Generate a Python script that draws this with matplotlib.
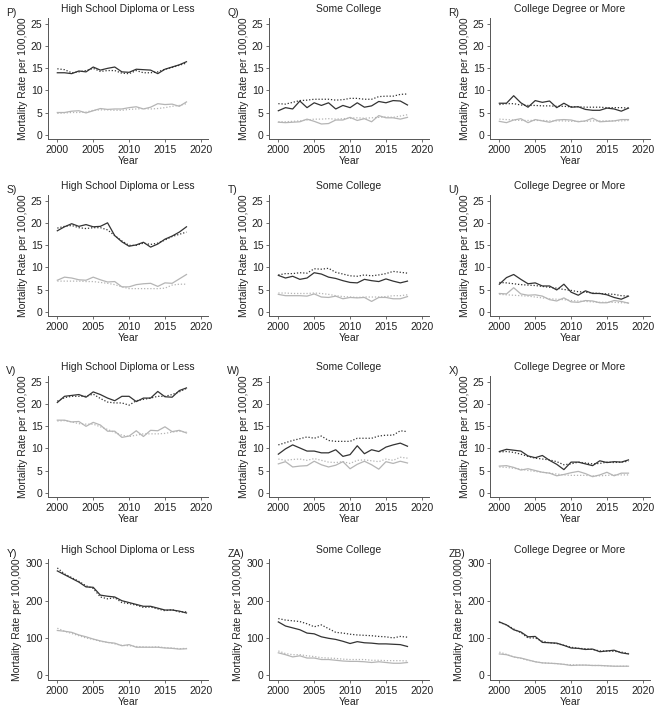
import numpy as np
import matplotlib
matplotlib.use("Agg")
import matplotlib.pyplot as plt

plt.rcParams['font.family'] = ['Liberation Sans', 'DejaVu Sans']

years = np.arange(2000, 2019)

panel_labels = ["P)", "Q)", "R)", "S)", "T)", "U)", "V)", "W)", "X)", "Y)", "ZA)", "ZB)"]
col_titles = ["High School Diploma or Less", "Some College", "College Degree or More"]

# black solid / black dotted / gray solid / gray dotted, per panel
P_blk = [14.0, 14.0, 13.8, 14.4, 14.2, 15.3, 14.6, 15.0, 15.3, 14.2, 14.1, 14.8, 14.7, 14.6, 13.8, 14.8, 15.3, 15.8, 16.5]
P_blk_fit = [14.9, 14.7, 14.0, 14.2, 14.5, 15.0, 14.3, 14.5, 14.5, 13.9, 13.8, 14.5, 14.0, 14.0, 14.2, 14.8, 15.2, 15.7, 16.2]
P_gry = [5.0, 5.0, 5.3, 5.4, 4.9, 5.4, 5.9, 5.7, 5.8, 5.8, 6.1, 6.3, 5.8, 6.2, 7.0, 6.8, 6.9, 6.4, 7.4]
P_gry_fit = [4.8, 4.9, 5.0, 5.0, 5.1, 5.5, 5.6, 5.6, 5.5, 5.5, 5.7, 5.8, 5.9, 5.8, 5.9, 6.1, 6.4, 6.6, 7.0]

Q_blk = [5.4, 6.1, 5.8, 7.6, 6.1, 7.2, 6.6, 7.2, 5.8, 6.6, 6.1, 7.2, 6.2, 6.5, 7.5, 7.2, 7.7, 7.6, 6.7]
Q_blk_fit = [7.0, 6.9, 7.3, 7.7, 7.8, 8.0, 8.0, 8.0, 7.8, 7.9, 8.2, 8.2, 8.0, 8.0, 8.6, 8.7, 8.7, 9.1, 9.2]
Q_gry = [2.8, 2.7, 2.8, 2.9, 3.5, 3.0, 2.4, 2.5, 3.3, 3.3, 3.9, 3.2, 3.6, 2.9, 4.3, 3.8, 3.8, 3.5, 3.9]
Q_gry_fit = [2.9, 2.9, 3.0, 3.1, 3.3, 3.5, 3.5, 3.6, 3.5, 3.6, 3.7, 3.8, 3.7, 3.8, 3.9, 4.0, 3.9, 4.2, 4.5]

R_blk = [7.1, 7.1, 8.8, 7.2, 6.2, 7.7, 7.3, 7.6, 6.1, 7.1, 6.2, 6.3, 5.7, 5.5, 5.5, 6.0, 5.8, 5.3, 6.0]
R_blk_fit = [6.8, 7.0, 7.0, 6.7, 6.6, 6.6, 6.5, 6.5, 6.4, 6.4, 6.3, 6.3, 6.2, 6.2, 6.2, 6.1, 6.1, 6.1, 6.0]
R_gry = [3.0, 2.7, 3.3, 3.6, 2.7, 3.4, 3.1, 2.8, 3.3, 3.4, 3.3, 2.9, 3.1, 3.7, 2.9, 3.0, 3.1, 3.4, 3.4]
R_gry_fit = [3.5, 3.4, 3.3, 3.2, 3.2, 3.2, 3.2, 3.1, 3.1, 3.1, 3.0, 3.0, 3.0, 3.1, 3.1, 3.1, 3.1, 3.1, 3.2]

S_blk = [18.3, 19.2, 19.9, 19.3, 19.7, 19.2, 19.3, 20.1, 17.2, 15.8, 14.8, 15.1, 15.7, 14.6, 15.3, 16.4, 17.1, 18.0, 19.2]
S_blk_fit = [18.9, 19.3, 19.5, 19.0, 18.8, 19.0, 19.0, 18.5, 17.2, 16.0, 15.0, 15.0, 15.5, 15.2, 15.5, 16.2, 17.0, 17.5, 18.0]
S_gry = [7.1, 7.8, 7.6, 7.2, 7.1, 7.8, 7.2, 6.7, 6.8, 5.6, 5.6, 6.1, 6.3, 6.4, 5.7, 6.5, 6.4, 7.4, 8.4]
S_gry_fit = [6.9, 6.9, 6.9, 6.9, 6.8, 6.8, 6.6, 6.4, 6.1, 5.6, 5.2, 5.2, 5.2, 5.2, 5.2, 5.3, 6.0, 6.2, 6.2]

T_blk = [8.2, 7.6, 8.0, 7.3, 7.6, 8.8, 8.5, 7.8, 7.5, 7.0, 6.6, 6.5, 7.3, 7.0, 6.8, 7.4, 6.9, 6.5, 6.9]
T_blk_fit = [8.3, 8.6, 8.6, 8.8, 8.7, 9.7, 9.6, 9.8, 8.9, 8.5, 8.1, 8.0, 8.3, 8.1, 8.3, 8.6, 9.1, 8.9, 8.7]
T_gry = [3.9, 3.6, 3.6, 3.6, 3.5, 4.0, 3.3, 3.2, 3.5, 2.9, 3.2, 3.1, 3.2, 2.3, 3.2, 3.2, 2.9, 2.9, 3.4]
T_gry_fit = [4.2, 4.2, 4.1, 4.1, 4.1, 4.2, 4.1, 3.9, 3.6, 3.4, 3.3, 3.2, 3.3, 3.3, 3.3, 3.4, 3.6, 3.6, 3.8]

U_blk = [6.2, 7.7, 8.4, 7.3, 6.3, 6.5, 5.8, 5.8, 4.9, 6.2, 4.4, 3.7, 4.7, 4.1, 4.1, 3.8, 3.2, 2.8, 3.5]
U_blk_fit = [6.6, 6.5, 6.3, 6.1, 6.0, 5.9, 5.7, 5.5, 5.3, 5.0, 4.8, 4.5, 4.4, 4.2, 4.1, 4.0, 3.9, 3.6, 3.5]
U_gry = [4.1, 4.0, 5.4, 4.0, 3.7, 3.8, 3.5, 2.7, 2.4, 3.1, 2.2, 2.1, 2.5, 2.4, 2.0, 2.0, 2.5, 2.3, 1.9]
U_gry_fit = [3.9, 3.8, 3.7, 3.6, 3.5, 3.3, 3.1, 2.9, 2.8, 2.7, 2.5, 2.4, 2.3, 2.2, 2.1, 2.1, 2.1, 2.0, 2.0]

V_blk = [20.4, 21.8, 22.0, 22.2, 21.6, 22.8, 22.2, 21.4, 20.8, 21.8, 21.8, 20.6, 21.4, 21.4, 22.9, 21.7, 21.6, 23.1, 23.7]
V_blk_fit = [20.7, 21.5, 21.8, 21.8, 21.8, 22.3, 21.3, 20.5, 20.3, 20.3, 19.8, 20.8, 21.1, 21.4, 21.8, 21.8, 22.2, 22.8, 23.6]
V_gry = [16.4, 16.4, 16.0, 16.1, 15.0, 15.9, 15.3, 13.9, 13.9, 12.5, 12.8, 14.0, 12.7, 14.1, 14.0, 14.9, 13.8, 14.1, 13.5]
V_gry_fit = [16.2, 16.3, 16.0, 15.6, 15.5, 15.5, 14.9, 14.3, 13.6, 13.0, 12.7, 13.0, 13.3, 13.3, 13.3, 13.4, 13.7, 13.9, 13.7]

W_blk = [8.7, 9.9, 10.8, 10.1, 9.4, 9.4, 9.0, 9.0, 9.7, 8.2, 8.6, 10.6, 8.8, 9.7, 9.3, 10.3, 10.8, 11.2, 10.5]
W_blk_fit = [10.8, 11.3, 11.8, 12.2, 12.6, 12.3, 12.8, 11.8, 11.6, 11.6, 11.6, 12.3, 12.3, 12.3, 12.8, 13.0, 13.0, 14.0, 13.8]
W_gry = [6.5, 7.0, 5.8, 6.0, 6.1, 7.1, 6.3, 5.8, 6.2, 7.0, 5.4, 6.4, 7.1, 6.3, 5.3, 7.0, 6.6, 7.1, 6.7]
W_gry_fit = [7.6, 7.3, 7.5, 7.6, 7.3, 7.7, 7.3, 6.9, 6.8, 7.0, 6.6, 7.3, 7.4, 7.2, 7.0, 7.6, 7.3, 8.0, 7.8]

X_blk = [9.3, 9.8, 9.6, 9.4, 8.3, 7.9, 8.4, 7.3, 6.4, 5.2, 6.9, 6.9, 6.5, 6.1, 7.2, 6.8, 7.0, 6.9, 7.4]
X_blk_fit = [9.2, 9.3, 9.1, 8.7, 8.2, 7.8, 7.6, 7.4, 7.0, 6.3, 6.5, 6.9, 6.7, 6.5, 6.6, 6.9, 6.8, 6.9, 7.1]
X_gry = [6.0, 6.1, 5.7, 5.1, 5.4, 5.0, 4.6, 4.4, 3.8, 4.1, 4.5, 4.8, 4.3, 3.6, 4.0, 4.6, 3.8, 4.4, 4.4]
X_gry_fit = [5.8, 5.7, 5.5, 5.3, 5.0, 4.8, 4.6, 4.4, 4.2, 4.0, 3.9, 3.9, 3.9, 3.8, 3.8, 3.9, 4.0, 4.0, 4.0]

Y_blk = [280, 270, 260, 250, 237, 236, 215, 212, 210, 200, 195, 190, 185, 185, 180, 175, 175, 172, 167]
Y_blk_fit = [288, 272, 262, 252, 240, 233, 210, 205, 208, 195, 192, 188, 182, 183, 178, 173, 176, 170, 170]
Y_gry = [120, 118, 115, 108, 103, 97, 92, 88, 86, 79, 82, 75, 75, 75, 75, 73, 72, 70, 71]
Y_gry_fit = [126, 118, 112, 106, 100, 96, 91, 88, 84, 80, 79, 77, 76, 75, 76, 74, 73, 71, 72]

ZA_blk = [143, 132, 127, 122, 113, 111, 103, 99, 96, 91, 85, 90, 87, 86, 84, 84, 83, 82, 77]
ZA_blk_fit = [152, 148, 146, 144, 138, 130, 135, 125, 115, 113, 110, 108, 107, 106, 104, 103, 100, 104, 102]
ZA_gry = [60, 55, 49, 52, 46, 46, 42, 42, 40, 38, 37, 37, 36, 34, 36, 34, 32, 32, 34]
ZA_gry_fit = [65, 58, 55, 55, 52, 50, 47, 46, 45, 43, 42, 42, 42, 40, 40, 39, 39, 39, 38]

ZB_blk = [143, 135, 122, 116, 103, 104, 88, 87, 86, 80, 73, 72, 69, 70, 63, 65, 67, 60, 57]
ZB_blk_fit = [142, 135, 124, 114, 100, 100, 91, 87, 85, 80, 75, 72, 71, 69, 65, 65, 64, 62, 58]
ZB_gry = [57, 55, 49, 46, 41, 36, 33, 32, 31, 29, 26, 27, 27, 26, 26, 25, 24, 24, 24]
ZB_gry_fit = [62, 56, 49, 45, 40, 36, 33, 32, 31, 29, 28, 27, 27, 26, 26, 25, 24, 24, 24]

panels = [
    (P_blk, P_blk_fit, P_gry, P_gry_fit),
    (Q_blk, Q_blk_fit, Q_gry, Q_gry_fit),
    (R_blk, R_blk_fit, R_gry, R_gry_fit),
    (S_blk, S_blk_fit, S_gry, S_gry_fit),
    (T_blk, T_blk_fit, T_gry, T_gry_fit),
    (U_blk, U_blk_fit, U_gry, U_gry_fit),
    (V_blk, V_blk_fit, V_gry, V_gry_fit),
    (W_blk, W_blk_fit, W_gry, W_gry_fit),
    (X_blk, X_blk_fit, X_gry, X_gry_fit),
    (Y_blk, Y_blk_fit, Y_gry, Y_gry_fit),
    (ZA_blk, ZA_blk_fit, ZA_gry, ZA_gry_fit),
    (ZB_blk, ZB_blk_fit, ZB_gry, ZB_gry_fit),
]

W, H = 664, 712
fig = plt.figure(figsize=(W / 100, H / 100), dpi=100)

col_left = [48, 269, 490]   # pixels
row_top = [18, 195, 376, 559]
ax_w, ax_h = 160, 121

dark = "#333333"
light = "#b5b5b5"
fs = 7.5

for i, (blk, blk_fit, gry, gry_fit) in enumerate(panels):
    r, c = divmod(i, 3)
    ax = fig.add_axes([col_left[c] / W, 1 - (row_top[r] + ax_h) / H, ax_w / W, ax_h / H])
    ax.plot(years, gry_fit, color=light, lw=0.9, ls=(0, (1, 1.5)))
    ax.plot(years, gry, color=light, lw=0.9)
    ax.plot(years, blk_fit, color=dark, lw=0.9, ls=(0, (1, 1.5)))
    ax.plot(years, blk, color=dark, lw=0.9)

    ax.set_xlim(1998.7, 2021)
    ax.set_xticks([2000, 2005, 2010, 2015, 2020])
    if r < 3:
        ax.set_ylim(-1, 26.4)
        ax.set_yticks([0, 5, 10, 15, 20, 25])
    else:
        ax.set_ylim(-13, 312)
        ax.set_yticks([0, 100, 200, 300])

    for s in ["top", "right"]:
        ax.spines[s].set_visible(False)
    for s in ["left", "bottom"]:
        ax.spines[s].set_color("#555555")
        ax.spines[s].set_linewidth(0.7)
    ax.tick_params(labelsize=fs, length=2.5, width=0.6, color="#555555", pad=1.5, labelcolor="#222222")

    ax.set_xlabel("Year", fontsize=fs, labelpad=1, color="#222222")
    ax.set_ylabel("Mortality Rate per 100,000", fontsize=fs, labelpad=2, color="#222222")
    ax.set_title(col_titles[c], fontsize=fs, pad=4, color="#222222")
    ax.text(-0.26, 1.0, panel_labels[i], transform=ax.transAxes, fontsize=fs,
            ha="left", va="bottom", color="#222222")

fig.savefig("out.png", dpi=100)
